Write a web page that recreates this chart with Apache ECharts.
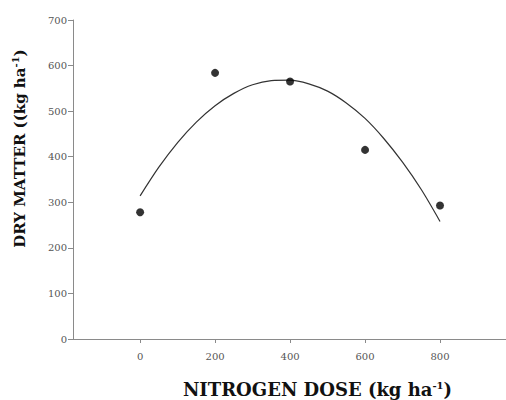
<!DOCTYPE html>
<html>
<head>
<meta charset="utf-8">
<script src="https://cdn.jsdelivr.net/npm/echarts@6/dist/echarts.min.js"></script>
<style>
  html, body { margin: 0; padding: 0; background: #fff; }
  #chart { width: 506px; height: 400px; }
</style>
</head>
<body>
<div id="chart"></div>
<script>
// measured points
const doses = [0, 200, 400, 600, 800]
const dryMatter = [278, 584, 565, 415, 293]

// fitted curve
const curveX = [0, 50, 100, 150, 200, 250, 300, 350, 400, 450, 500, 550, 600, 650, 700, 750, 800]
const curveY = [314, 377, 431, 476, 512, 539, 558, 567, 568, 560, 544, 518, 484, 440, 388, 328, 258]

const xTicks = [0, 200, 400, 600, 800]

const chart = echarts.init(document.getElementById('chart'), null, { renderer: 'svg' })

const axisGray = '#8a8a8a'
const labelStyle = { fontFamily: 'DejaVu Serif', fontSize: 10, color: '#555' }
const titleFont = { fontFamily: 'DejaVu Serif', fontWeight: 'bold', color: '#111' }
const supStyle = { fontFamily: 'DejaVu Serif', fontSize: 10, fontWeight: 'bold', color: '#111', verticalAlign: 'top', padding: [0, 0, 9, 0] }

chart.setOption({
  animation: false,
  grid: { left: 73, right: 0, top: 20, bottom: 61, outerBoundsMode: 'none' },
  xAxis: {
    type: 'value',
    min: -179,
    max: 976,
    splitLine: { show: false },
    axisLine: { lineStyle: { color: axisGray, width: 1 } },
    axisTick: { customValues: xTicks, length: 4, lineStyle: { color: axisGray } },
    axisLabel: Object.assign({ customValues: xTicks, margin: 12 }, labelStyle),
    name: 'NITROGEN DOSE (kg ha{sup|-1})',
    nameLocation: 'middle',
    nameGap: 41,
    nameTextStyle: Object.assign({ fontSize: 18, padding: [0, 0, 0, 56], rich: { sup: supStyle } }, titleFont)
  },
  yAxis: {
    type: 'value',
    min: 0,
    max: 700,
    interval: 100,
    splitLine: { show: false },
    axisLine: { show: true, onZero: false, lineStyle: { color: axisGray, width: 1 } },
    axisTick: { show: true, length: 5, lineStyle: { color: axisGray } },
    axisLabel: Object.assign({ margin: 6 }, labelStyle),
    name: 'DRY MATTER ((kg ha{sup|-1})',
    nameLocation: 'middle',
    nameGap: 44,
    nameTextStyle: Object.assign({ fontSize: 15, padding: [0, 0, 0, 62], rich: { sup: supStyle } }, titleFont)
  },
  series: [
    {
      type: 'line',
      data: curveX.map((x, i) => [x, curveY[i]]),
      smooth: 0.3,
      showSymbol: false,
      lineStyle: { color: '#333', width: 1.2 },
      z: 1
    },
    {
      type: 'scatter',
      data: doses.map((x, i) => [x, dryMatter[i]]),
      symbolSize: 8,
      itemStyle: { color: '#000' },
      z: 2
    }
  ]
})
</script>
</body>
</html>
